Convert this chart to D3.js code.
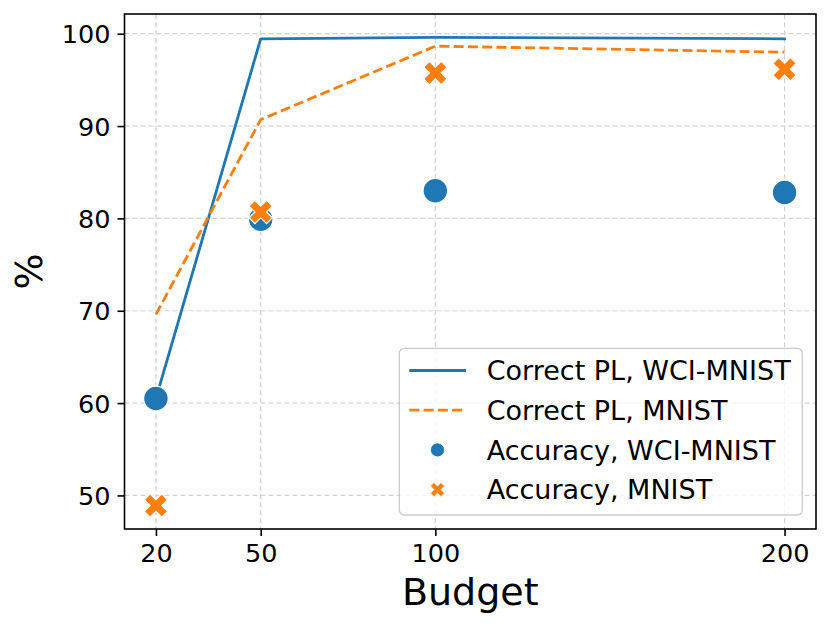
<!DOCTYPE html>
<html>
<head>
<meta charset="utf-8">
<script src="https://cdn.jsdelivr.net/npm/d3@7"></script>
<style>
  html, body { margin: 0; padding: 0; background: #ffffff; }
  svg { display: block; font-family: "DejaVu Sans", sans-serif; }
</style>
</head>
<body>
<svg id="chart" width="830" height="628"></svg>
<script>
// ---- data ----
const budgets = [20, 50, 100, 200];
const xTicks = [20, 50, 100, 200];
const yTicks = [50, 60, 70, 80, 90, 100];
const plWci = [60.5, 99.45, 99.6, 99.45];
const plMnist = [69.6, 90.7, 98.65, 98.0];
const accWci = [60.5, 79.9, 83.0, 82.8];
const accMnist = [48.9, 80.7, 95.75, 96.15];
const legendLabels = ["Correct PL, WCI-MNIST", "Correct PL, MNIST", "Accuracy, WCI-MNIST", "Accuracy, MNIST"];

const blue = "#1f77b4", orange = "#ff7f0e";

const svg = d3.select("#chart");
const L = 124.5, R = 816, T = 14, B = 529;

// matplotlib-like 5% margins
const allY = [].concat(plWci, plMnist, accWci, accMnist);
const yMin = d3.min(allY), yMax = d3.max(allY), yPad = (yMax - yMin) * 0.05;
const xMin = d3.min(budgets), xMax = d3.max(budgets), xPad = (xMax - xMin) * 0.05;

const x = d3.scaleLinear().domain([xMin - xPad, xMax + xPad]).range([L, R]);
const y = d3.scaleLinear().domain([yMin - yPad, yMax + yPad]).range([B, T]);

// grid
const grid = svg.append("g");
grid.selectAll("line.gx").data(xTicks).enter().append("line")
  .attr("x1", d => x(d)).attr("x2", d => x(d)).attr("y1", T).attr("y2", B)
  .attr("stroke", "#d3d3d3").attr("stroke-width", 1.2).attr("stroke-dasharray", "5,3");
grid.selectAll("line.gy").data(yTicks).enter().append("line")
  .attr("y1", d => y(d)).attr("y2", d => y(d)).attr("x1", L).attr("x2", R)
  .attr("stroke", "#d3d3d3").attr("stroke-width", 1.2).attr("stroke-dasharray", "5,3");

// lines
const line = d3.line().x(d => x(d[0])).y(d => y(d[1]));
svg.append("path").datum(budgets.map((b, i) => [b, plWci[i]]))
  .attr("d", line).attr("fill", "none").attr("stroke", blue).attr("stroke-width", 2.8)
  .attr("stroke-linejoin", "round").attr("stroke-linecap", "square");
svg.append("path").datum(budgets.map((b, i) => [b, plMnist[i]]))
  .attr("d", line).attr("fill", "none").attr("stroke", orange).attr("stroke-width", 2.8)
  .attr("stroke-dasharray", "10,4.3");

// X marker path (filled cross rotated 45deg, like matplotlib 'X')
function xMarker(s) {
  const v = [[-1,-3],[1,-3],[1,-1],[3,-1],[3,1],[1,1],[1,3],[-1,3],[-1,1],[-3,1],[-3,-1],[-1,-1]];
  const c = Math.SQRT1_2;
  return "M" + v.map(p => {
    const px = p[0] * s / 6, py = p[1] * s / 6;
    return [(px - py) * c, (px + py) * c].map(n => n.toFixed(2)).join(",");
  }).join("L") + "Z";
}

// scatter
svg.append("g").selectAll("circle").data(budgets.map((b, i) => [b, accWci[i]])).enter()
  .append("circle").attr("cx", d => x(d[0])).attr("cy", d => y(d[1])).attr("r", 12.3)
  .attr("fill", blue).attr("stroke", "#ffffff").attr("stroke-width", 1.2);
svg.append("g").selectAll("path").data(budgets.map((b, i) => [b, accMnist[i]])).enter()
  .append("path").attr("d", xMarker(24.8))
  .attr("transform", d => `translate(${x(d[0])},${y(d[1])})`)
  .attr("fill", orange).attr("stroke", "#ffffff").attr("stroke-width", 1.2);

// axes
const xAxis = d3.axisBottom(x).tickValues(xTicks).tickSize(7).tickPadding(7).tickFormat(d3.format("d"));
const yAxis = d3.axisLeft(y).tickValues(yTicks).tickSize(7).tickPadding(7).tickFormat(d3.format("d"));
const gx = svg.append("g").attr("transform", `translate(0,${B})`).call(xAxis);
const gy = svg.append("g").attr("transform", `translate(${L},0)`).call(yAxis);
[gx, gy].forEach(g => {
  g.select(".domain").remove();
  g.selectAll(".tick line").attr("stroke", "#000").attr("stroke-width", 1.6);
  g.selectAll(".tick text").attr("fill", "#000").attr("font-size", 25.5)
    .attr("font-family", "DejaVu Sans");
});
gx.selectAll(".tick text").attr("dy", "0.76em");
gy.selectAll(".tick text").attr("dy", "0.36em");

// frame
svg.append("rect").attr("x", L).attr("y", T).attr("width", R - L).attr("height", B - T)
  .attr("fill", "none").attr("stroke", "#000").attr("stroke-width", 1.6);

// axis labels
svg.append("text").attr("x", (L + R) / 2).attr("y", 605).attr("text-anchor", "middle")
  .attr("font-size", 38).attr("fill", "#000").text("Budget");
svg.append("text").attr("transform", `translate(42,${(T + B) / 2}) rotate(-90)`)
  .attr("text-anchor", "middle").attr("font-size", 38).attr("fill", "#000").text("%");

// legend
const lg = svg.append("g");
lg.append("rect").attr("x", 399.3).attr("y", 348.3).attr("width", 403).attr("height", 166.7)
  .attr("rx", 5).attr("fill", "#ffffff").attr("fill-opacity", 0.8)
  .attr("stroke", "#cccccc").attr("stroke-width", 1.3);
const rowY = i => 370.5 + i * 39.7;
lg.append("line").attr("x1", 409.3).attr("x2", 466).attr("y1", rowY(0)).attr("y2", rowY(0))
  .attr("stroke", blue).attr("stroke-width", 2.8);
lg.append("line").attr("x1", 409.3).attr("x2", 466).attr("y1", rowY(1)).attr("y2", rowY(1))
  .attr("stroke", orange).attr("stroke-width", 2.8).attr("stroke-dasharray", "10,4.3");
lg.append("circle").attr("cx", 437.5).attr("cy", rowY(2)).attr("r", 7)
  .attr("fill", blue).attr("stroke", "#fff").attr("stroke-width", 0.8);
lg.append("path").attr("d", xMarker(15)).attr("transform", `translate(437.5,${rowY(3)})`)
  .attr("fill", orange).attr("stroke", "#fff").attr("stroke-width", 0.8);
lg.selectAll("text").data(legendLabels).enter().append("text")
  .attr("x", 486.7).attr("y", (d, i) => rowY(i)).attr("dy", "0.36em")
  .attr("font-size", 27).attr("fill", "#000").text(d => d);
</script>
</body>
</html>
